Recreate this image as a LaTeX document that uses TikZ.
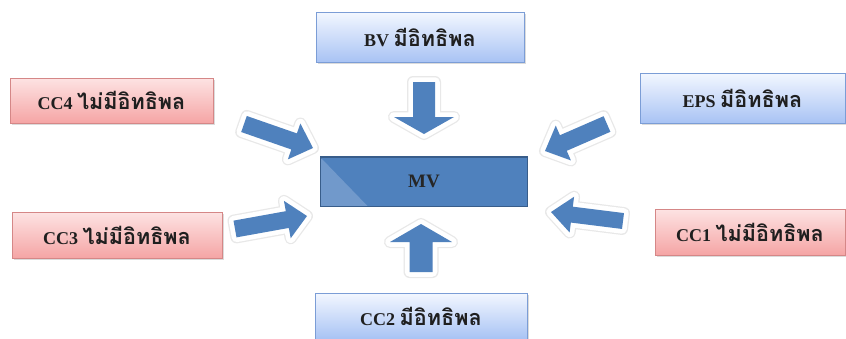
\documentclass[tikz,border=0pt]{standalone}
\usepackage{fontspec}
\setmainfont{Liberation Serif}
\newfontfamily\thaifont[Script=Thai,Scale=1.2]{Loma}
\usetikzlibrary{calc,shadows}

\definecolor{sigtop}{HTML}{F3F7FF}
\definecolor{sigbot}{HTML}{A8C3F4}
\definecolor{sigline}{HTML}{7B9DD6}
\definecolor{nstop}{HTML}{FDE3E3}
\definecolor{nsbot}{HTML}{F5A5A5}
\definecolor{nsline}{HTML}{D58787}
\definecolor{mvfill}{HTML}{4F81BD}
\definecolor{mvline}{HTML}{385D8A}
\definecolor{mvlight}{HTML}{7199CB}
\definecolor{arrowblue}{HTML}{4F81BD}

\tikzset{
  factor/.style={draw, line width=0.8pt, minimum height=46pt, inner sep=0pt,
    font=\bfseries\fontsize{18}{20}\selectfont, text=black!88,
    drop shadow={opacity=0.28, shadow xshift=1.5pt, shadow yshift=-2pt}},
  sigbox/.style={factor, draw=sigline, top color=sigtop, bottom color=sigbot},
  nsbox/.style={factor, draw=nsline, top color=nstop, bottom color=nsbot},
  centrebox/.style={draw=mvline, line width=1pt, fill=mvfill, inner sep=0pt},
  arrowbody/.style={fill=arrowblue,
    preaction={draw=black!9, line width=12pt, line join=round},
    preaction={draw=white, line width=9.5pt, line join=round}}
}

% block arrow: tail, tip, shaft half-width, head half-width, head length
\newcommand\blockarrow[5]{%
  \coordinate (hb) at ($(#2)!#5pt!(#1)$);
  \path[arrowbody]
    ($(#1)!#3pt!90:(#2)$) -- ($(hb)!#3pt!-90:(#1)$) -- ($(hb)!#4pt!-90:(#1)$)
    -- (#2) -- ($(hb)!#4pt!90:(#1)$) -- ($(hb)!#3pt!90:(#1)$)
    -- ($(#1)!#3pt!-90:(#2)$) -- cycle;}

\begin{document}
\begin{tikzpicture}[x=1pt,y=-1pt]
  \useasboundingbox (0,0) rectangle (846,338);
  \fill[white] (0,0) rectangle (846,338);

  % arrow ends
  \coordinate (bvT) at (424,82);   \coordinate (bvH) at (424,134);
  \coordinate (c2T) at (421,272);  \coordinate (c2H) at (421,224);
  \coordinate (c4T) at (244,124);  \coordinate (c4H) at (313,148);
  \coordinate (c3T) at (235,229);  \coordinate (c3H) at (307,216);
  \coordinate (epT) at (607,124);  \coordinate (epH) at (545,151);
  \coordinate (c1T) at (623,221);  \coordinate (c1H) at (551,212);

  \blockarrow{bvT}{bvH}{11}{30}{17}
  \blockarrow{c2T}{c2H}{11.5}{31}{18}
  \blockarrow{c4T}{c4H}{8.5}{19}{20}
  \blockarrow{c3T}{c3H}{8.5}{19}{20}
  \blockarrow{epT}{epH}{8.5}{19}{20}
  \blockarrow{c1T}{c1H}{8}{18}{21}

  % influence boxes
  \node[sigbox, minimum width=208pt, minimum height=50pt] (bv)  at (420,37)    {BV {\thaifont มีอิทธิพล}};
  \node[nsbox,  minimum width=203pt, minimum height=45pt] (cc4) at (111.5,100.5) {CC4 {\thaifont ไม่มีอิทธิพล}};
  \node[sigbox, minimum width=205pt, minimum height=50pt] (eps) at (742.5,98)  {EPS {\thaifont มีอิทธิพล}};
  \node[nsbox,  minimum width=210pt, minimum height=46pt] (cc3) at (117,235)   {CC3 {\thaifont ไม่มีอิทธิพล}};
  \node[nsbox,  minimum width=190pt, minimum height=46pt] (cc1) at (750,232)   {CC1 {\thaifont ไม่มีอิทธิพล}};
  \node[sigbox, minimum width=212pt, minimum height=46pt] (cc2) at (421,316)   {CC2 {\thaifont มีอิทธิพล}};

  % central box with its lighter corner
  \node[centrebox, minimum width=206pt, minimum height=49pt] (mv) at (424,181.5) {};
  \fill[mvlight] ($(mv.north west)+(0.5,1.5)$) -- ($(mv.south west)+(0.5,-0.5)$) -- ($(mv.south west)+(47,-0.5)$) -- cycle;
  \draw[mvline, line width=1pt] (mv.north west) rectangle (mv.south east);
  \node[font=\bfseries\fontsize{19}{21}\selectfont, text=black!85] (mvlabel) at (mv.center) {MV};
\end{tikzpicture}
\end{document}
